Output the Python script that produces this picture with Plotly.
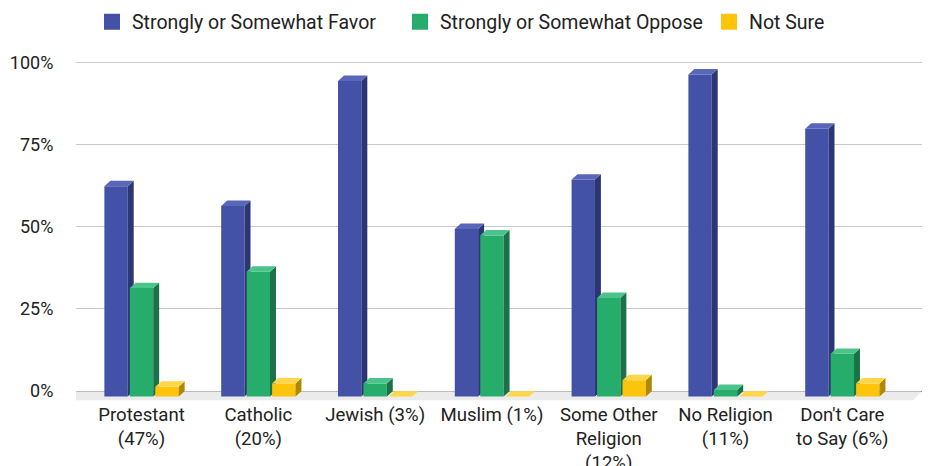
import plotly.graph_objects as go

# ---------------- data ----------------
categories = ["Protestant<br>(47%)", "Catholic<br>(20%)", "Jewish (3%)", "Muslim (1%)",
              "Some Other<br>Religion<br>(12%)", "No Religion<br>(11%)", "Don't Care<br>to Say (6%)"]
favor = [64, 58, 96, 51, 66, 98, 81.5]
oppose = [33, 38, 4, 49, 30, 2, 13]
not_sure = [3, 4, 0, 0, 5, 0, 4]
series_names = ["Strongly or Somewhat Favor", "Strongly or Somewhat Oppose", "Not Sure"]
y_tick_vals = [0, 25, 50, 75, 100]
y_tick_text = ["0%", "25%", "50%", "75%", "100%"]

# ---------------- styling ----------------
front_colors = ["#4351a6", "#27ad6b", "#fcc40a"]
side_colors = ["#2b3674", "#1a7246", "#b08900"]
top_colors = ["#5a67b8", "#4cc38a", "#ffd54a"]

slot = 0.218      # distance between bars in a group (x units)
w = 0.2           # bar front width (x units)
dx = 0.051        # 3-D depth, horizontal (x units)
dy = 1.65         # 3-D depth, vertical (y units)
floor_dx = 0.077
floor_dy = 2.75
x_range = [-0.561, 6.682]
y_range = [-3.0, 101.04]
legend_lefts = [92, 400, 709]   # px, left edge of each legend entry box

fig = go.Figure()

# floor band
fx = [x_range[0], x_range[1], x_range[1] - floor_dx, x_range[0] - floor_dx, x_range[0]]
fy = [0, 0, -floor_dy, -floor_dy, 0]
fig.add_trace(go.Scatter(x=fx, y=fy, fill="toself", fillcolor="#ebebeb", mode="lines",
                         line=dict(width=0), hoverinfo="skip", showlegend=False))


def polys(values, k, face):
    xs, ys = [], []
    for i, v in enumerate(values):
        c = i + (k - 1) * slot
        l, r = c - w / 2, c + w / 2
        if face == "front":
            px = [l, r, r, l, l]
            py = [-dy, -dy, v - dy, v - dy, -dy]
        elif face == "side":
            px = [r, r + dx, r + dx, r, r]
            py = [-dy, 0, v, v - dy, -dy]
        else:
            px = [l, r, r + dx, l + dx, l]
            py = [v - dy, v - dy, v, v, v - dy]
        xs += px + [None]
        ys += py + [None]
    return xs, ys


for k, vals in enumerate([favor, oppose, not_sure]):
    for face, col in (("front", front_colors[k]), ("side", side_colors[k]), ("top", top_colors[k])):
        xs, ys = polys(vals, k, face)
        fig.add_trace(go.Scatter(x=xs, y=ys, fill="toself", fillcolor=col, mode="lines",
                                 line=dict(width=0, color=col), hoverinfo="skip",
                                 showlegend=False, name=series_names[k]))

# legend entries, one legend box per series
legend_ids = ["legend", "legend2", "legend3"]
for k in range(3):
    fig.add_trace(go.Scatter(x=[None], y=[None], mode="markers", name=series_names[k],
                             legend=legend_ids[k],
                             marker=dict(symbol="square", size=17, color=front_colors[k])))

legend_style = dict(orientation="h", xref="container", yref="container", xanchor="left",
                    y=1 - 22 / 466, yanchor="middle", font=dict(size=19.5), itemwidth=30,
                    bgcolor="rgba(0,0,0,0)", borderwidth=0)

fig.update_layout(
    width=932, height=466,
    margin=dict(l=76, r=10, t=59, b=65, autoexpand=False),
    paper_bgcolor="white", plot_bgcolor="white",
    font=dict(family="Roboto, Arial, sans-serif", size=18, color="#222222"),
    legend=dict(x=legend_lefts[0] / 932, **legend_style),
    legend2=dict(x=legend_lefts[1] / 932, **legend_style),
    legend3=dict(x=legend_lefts[2] / 932, **legend_style),
    xaxis=dict(range=x_range, tickmode="array", tickvals=list(range(len(categories))),
               ticktext=categories, showgrid=False, zeroline=False, showline=False,
               ticks="", fixedrange=True, automargin=False, tickfont=dict(size=18.6),
               ticklabelstandoff=0),
    yaxis=dict(range=y_range, tickmode="array", tickvals=y_tick_vals, ticktext=y_tick_text,
               showgrid=True, gridcolor="#c9c9c9", gridwidth=1.3, zeroline=True,
               zerolinecolor="#333333", zerolinewidth=1.2, showline=False, automargin=False,
               ticks="outside", ticklen=18, tickcolor="rgba(0,0,0,0)", fixedrange=True),
)

fig.write_html("out.html")
